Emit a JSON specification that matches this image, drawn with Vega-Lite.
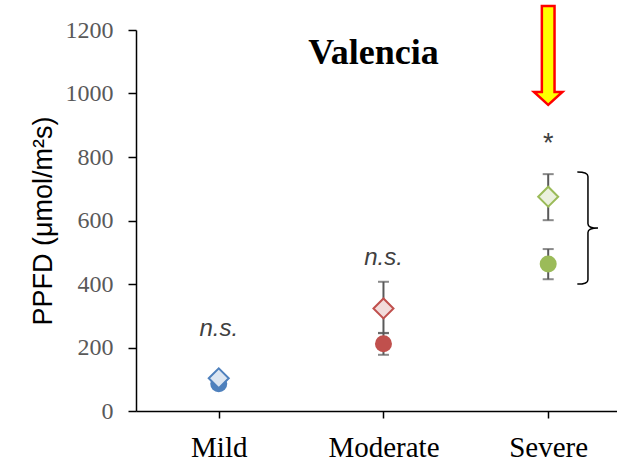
{
  "$schema": "https://vega.github.io/schema/vega-lite/v6.json",
  "autosize": "none",
  "width": 481,
  "height": 381,
  "padding": {"left": 136, "top": 30, "right": 0, "bottom": 51},
  "background": "white",
  "config": {
    "view": {"stroke": null},
    "axis": {"grid": false}
  },
  "datasets": {
    "points": [
      {"stage": "Mild", "kind": "diamond", "mean": 103, "lo": 98, "hi": 108},
      {"stage": "Mild", "kind": "circle", "mean": 86, "lo": 81, "hi": 91},
      {"stage": "Moderate", "kind": "diamond", "mean": 323, "lo": 245, "hi": 407},
      {"stage": "Moderate", "kind": "circle", "mean": 212, "lo": 177, "hi": 246},
      {"stage": "Severe", "kind": "diamond", "mean": 675, "lo": 601, "hi": 746},
      {"stage": "Severe", "kind": "circle", "mean": 463, "lo": 415, "hi": 510}
    ],
    "notes": [
      {"stage": "Mild", "y": 236, "label": "n.s."},
      {"stage": "Moderate", "y": 460, "label": "n.s."}
    ]
  },
  "layer": [
    {
      "data": {"name": "points"},
      "mark": {"type": "rule", "color": "#595959", "strokeWidth": 2},
      "encoding": {
        "x": {
          "field": "stage", "type": "nominal",
          "sort": ["Mild", "Moderate", "Severe"],
          "scale": {"type": "point", "padding": 0.46, "align": 0.546},
          "axis": {
            "title": null,
            "labelAngle": 0,
            "labelFont": "Liberation Serif",
            "labelFontSize": 29,
            "labelColor": "black",
            "labelPadding": 15,
            "domainColor": "black",
            "domainWidth": 1.5,
            "tickColor": "black",
            "tickWidth": 1.5,
            "tickSize": 7
          }
        },
        "y": {
          "field": "lo", "type": "quantitative",
          "scale": {"domain": [0, 1200], "nice": false},
          "axis": {
            "title": "PPFD (μmol/m²s)",
            "titleFont": "Liberation Sans",
            "titleFontSize": 27,
            "titleFontWeight": "normal",
            "titleColor": "black",
            "titlePadding": 8,
            "values": [0, 200, 400, 600, 800, 1000, 1200],
            "format": "d",
            "labelFont": "Liberation Serif",
            "labelFontSize": 24,
            "labelColor": "#595959",
            "labelPadding": 15,
            "domainColor": "black",
            "domainWidth": 1.5,
            "tickColor": "black",
            "tickWidth": 1.5,
            "tickSize": 8
          }
        },
        "y2": {"field": "hi"}
      }
    },
    {
      "data": {"name": "points"},
      "mark": {"type": "tick", "orient": "horizontal", "color": "#595959", "size": 11, "thickness": 2},
      "encoding": {
        "x": {"field": "stage", "type": "nominal", "sort": ["Mild", "Moderate", "Severe"]},
        "y": {"field": "lo", "type": "quantitative"}
      }
    },
    {
      "data": {"name": "points"},
      "mark": {"type": "tick", "orient": "horizontal", "color": "#595959", "size": 11, "thickness": 2},
      "encoding": {
        "x": {"field": "stage", "type": "nominal", "sort": ["Mild", "Moderate", "Severe"]},
        "y": {"field": "hi", "type": "quantitative"}
      }
    },
    {
      "data": {"name": "points"},
      "transform": [{"filter": "datum.kind === 'circle'"}],
      "mark": {"type": "point", "shape": "circle", "filled": true, "size": 289, "opacity": 1},
      "encoding": {
        "x": {"field": "stage", "type": "nominal", "sort": ["Mild", "Moderate", "Severe"]},
        "y": {"field": "mean", "type": "quantitative"},
        "fill": {
          "field": "stage", "type": "nominal",
          "scale": {"domain": ["Mild", "Moderate", "Severe"], "range": ["#4f81bd", "#c0504d", "#9bbb59"]},
          "legend": null
        }
      }
    },
    {
      "data": {"name": "points"},
      "transform": [{"filter": "datum.kind === 'diamond'"}],
      "mark": {"type": "point", "shape": "diamond", "filled": true, "size": 400, "strokeWidth": 2, "opacity": 1},
      "encoding": {
        "x": {"field": "stage", "type": "nominal", "sort": ["Mild", "Moderate", "Severe"]},
        "y": {"field": "mean", "type": "quantitative"},
        "fill": {
          "field": "stage", "type": "nominal",
          "scale": {"domain": ["Mild", "Moderate", "Severe"], "range": ["#dce6f2", "#f2dcdb", "#ebf1de"]},
          "legend": null
        },
        "stroke": {
          "field": "stage", "type": "nominal",
          "scale": {"domain": ["Mild", "Moderate", "Severe"], "range": ["#4f81bd", "#c0504d", "#9bbb59"]},
          "legend": null
        }
      }
    },
    {
      "data": {"name": "notes"},
      "mark": {"type": "text", "font": "Liberation Sans", "fontStyle": "italic", "fontSize": 24, "color": "#404040", "baseline": "alphabetic", "align": "center"},
      "encoding": {
        "x": {"field": "stage", "type": "nominal", "sort": ["Mild", "Moderate", "Severe"]},
        "y": {"field": "y", "type": "quantitative"},
        "text": {"field": "label"}
      }
    },
    {
      "data": {"values": [{"stage": "Severe", "y": 815, "label": "*"}]},
      "mark": {"type": "text", "font": "Liberation Sans", "fontSize": 27, "color": "#404040", "baseline": "alphabetic", "align": "center"},
      "encoding": {
        "x": {"field": "stage", "type": "nominal", "sort": ["Mild", "Moderate", "Severe"]},
        "y": {"field": "y", "type": "quantitative"},
        "text": {"field": "label"}
      }
    },
    {
      "data": {"values": [{"stage": "Severe", "y": 576}]},
      "mark": {
        "type": "point",
        "shape": "M0.52,-1 Q0.71,-1 0.71,-0.92 L0.71,-0.08 Q0.71,0 0.89,0 Q0.71,0 0.71,0.08 L0.71,0.92 Q0.71,1 0.52,1",
        "filled": false,
        "size": 12544,
        "stroke": "black",
        "strokeWidth": 1.5,
        "opacity": 1
      },
      "encoding": {
        "x": {"field": "stage", "type": "nominal", "sort": ["Mild", "Moderate", "Severe"]},
        "y": {"field": "y", "type": "quantitative"}
      }
    },
    {
      "data": {"values": [{"stage": "Severe", "y": 1120}]},
      "mark": {
        "type": "point",
        "shape": "M-0.128,-1 L0.128,-1 L0.128,0.737 L0.287,0.737 L0,1 L-0.287,0.737 L-0.128,0.737 Z",
        "filled": true,
        "size": 9801,
        "fill": "#ffff00",
        "stroke": "#ff0000",
        "strokeWidth": 2.5,
        "opacity": 1
      },
      "encoding": {
        "x": {"field": "stage", "type": "nominal", "sort": ["Mild", "Moderate", "Severe"]},
        "y": {"field": "y", "type": "quantitative"}
      }
    },
    {
      "data": {"values": [{"stage": "Moderate", "y": 1093, "label": "Valencia"}]},
      "mark": {"type": "text", "font": "Liberation Serif", "fontSize": 36, "fontWeight": "bold", "color": "black", "baseline": "alphabetic", "align": "center", "dx": -10},
      "encoding": {
        "x": {"field": "stage", "type": "nominal", "sort": ["Mild", "Moderate", "Severe"]},
        "y": {"field": "y", "type": "quantitative"},
        "text": {"field": "label"}
      }
    }
  ],
  "resolve": {"scale": {"fill": "independent"}}
}
